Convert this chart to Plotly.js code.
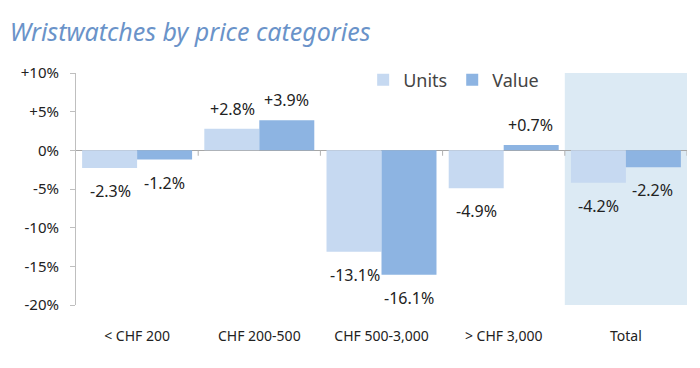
<!DOCTYPE html>
<html>
<head>
<meta charset="utf-8">
<script src="https://cdn.plot.ly/plotly-3.0.1.min.js"></script>
<style>html,body{margin:0;padding:0;background:#fff;}#chart{width:700px;height:368px;}</style>
</head>
<body>
<div id="chart"></div>
<script>
const categories = ["< CHF 200", "CHF 200-500", "CHF 500-3,000", "> CHF 3,000", "Total"];
const unitsValues = [-2.3, 2.8, -13.1, -4.9, -4.2];
const valueValues = [-1.2, 3.9, -16.1, 0.7, -2.2];
const seriesNames = ["Units", "Value"];
const yTickVals = [10, 5, 0, -5, -10, -15, -20];
const yTickText = ["+10%", "+5%", "0%", "-5%", "-10%", "-15%", "-20%"];

const unitsColor = "#c6d9f1";
const valueColor = "#8db4e2";
const font = "Noto Sans, Open Sans, sans-serif";

const fmt = v => (v > 0 ? "+" : "") + v.toFixed(1) + "%";

const traces = [
  {type: "bar", name: seriesNames[0], x: categories, y: unitsValues,
   marker: {color: unitsColor}, hoverinfo: "skip"},
  {type: "bar", name: seriesNames[1], x: categories, y: valueValues,
   marker: {color: valueColor}, hoverinfo: "skip"}
];

const annotations = [];
[unitsValues, valueValues].forEach((vals, s) => {
  vals.forEach((v, i) => {
    annotations.push({
      x: categories[i], y: v, xref: "x", yref: "y",
      text: fmt(v), showarrow: false,
      xshift: s === 0 ? -27 : 27,
      yshift: v >= 0 ? 20 : -23,
      yanchor: "middle",
      font: {family: font, size: 16, color: "#222"}
    });
  });
});

const shapes = [
  {type: "rect", layer: "below", xref: "x", yref: "y",
   x0: categories.length - 1.5, x1: categories.length - 0.5, y0: -20, y1: 10,
   fillcolor: "#dceaf4", line: {width: 0}}
];
for (let i = 0; i < categories.length; i++) {
  shapes.push({type: "line", xref: "x", yref: "y", x0: i + 0.5, x1: i + 0.5,
    y0: 0, y1: -0.7, line: {color: "#b0b0b0", width: 1}});
}

const layout = {
  width: 700, height: 368,
  margin: {l: 76, r: 13, t: 73, b: 63},
  paper_bgcolor: "#fff", plot_bgcolor: "rgba(0,0,0,0)",
  title: {text: "Wristwatches by price categories", x: 0.014, xanchor: "left",
    y: 0.913, yanchor: "middle",
    font: {family: font, size: 25, color: "#6a93c9", style: "italic"}},
  barmode: "group", bargap: 0.1, bargroupgap: 0,
  showlegend: true,
  legend: {orientation: "h", x: 0.47, xanchor: "left", y: 0.97, yanchor: "middle",
    font: {family: font, size: 18, color: "#444"}, bgcolor: "rgba(0,0,0,0)",
    itemwidth: 30, traceorder: "normal"},
  xaxis: {type: "category", range: [-0.5, categories.length - 0.5],
    showline: false, ticks: "", showgrid: false, zeroline: false,
    ticklabelstandoff: 21,
    tickfont: {family: font, size: 14, color: "#222"}},
  yaxis: {range: [-20, 10], tickvals: yTickVals, ticktext: yTickText,
    showgrid: false, zeroline: true, zerolinecolor: "#a6a6a6", zerolinewidth: 1,
    showline: true, linecolor: "#bfbfbf", ticks: "outside", ticklen: 5,
    tickcolor: "#bfbfbf", ticklabelstandoff: 8,
    tickfont: {family: font, size: 15, color: "#222"}},
  shapes: shapes,
  annotations: annotations
};

Plotly.newPlot("chart", traces, layout, {staticPlot: true, displayModeBar: false});
</script>
</body>
</html>
